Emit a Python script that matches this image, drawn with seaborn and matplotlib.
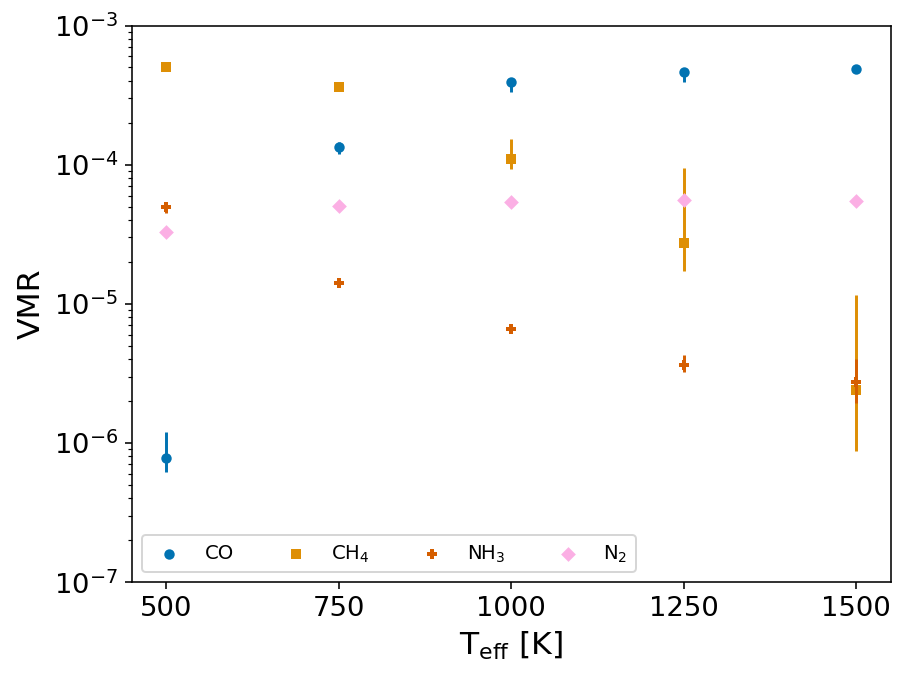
import numpy as np
import pandas as pd
import matplotlib
matplotlib.use("Agg")
import matplotlib.pyplot as plt
import seaborn as sns

teff = [500, 750, 1000, 1250, 1500]
species = ["CO", "CH4", "NH3", "N2"]
labels = {"CO": "CO", "CH4": r"CH$_4$", "NH3": r"NH$_3$", "N2": r"N$_2$"}
markers = {"CO": "o", "CH4": "s", "NH3": "P", "N2": "D"}

co_vmr = [7.8e-7, 1.35e-4, 3.9e-4, 4.65e-4, 4.9e-4]
co_lo = [6.2e-7, 1.2e-4, 3.35e-4, 3.95e-4, 4.7e-4]
co_hi = [1.2e-6, 1.45e-4, 4.1e-4, 4.85e-4, 5.1e-4]

ch4_vmr = [5.0e-4, 3.62e-4, 1.09e-4, 2.75e-5, 2.4e-6]
ch4_lo = [4.9e-4, 3.55e-4, 9.3e-5, 1.73e-5, 8.8e-7]
ch4_hi = [5.1e-4, 3.7e-4, 1.54e-4, 9.4e-5, 1.16e-5]

nh3_vmr = [5.0e-5, 1.42e-5, 6.6e-6, 3.64e-6, 2.75e-6]
nh3_lo = [4.5e-5, 1.38e-5, 6.3e-6, 3.24e-6, 1.94e-6]
nh3_hi = [5.2e-5, 1.46e-5, 6.9e-6, 4.3e-6, 4.0e-6]

n2_vmr = [3.3e-5, 5.05e-5, 5.4e-5, 5.6e-5, 5.5e-5]
n2_lo = [3.25e-5, 5.0e-5, 5.35e-5, 5.55e-5, 5.45e-5]
n2_hi = [3.35e-5, 5.1e-5, 5.45e-5, 5.65e-5, 5.55e-5]

series = {
    "CO": (co_vmr, co_lo, co_hi),
    "CH4": (ch4_vmr, ch4_lo, ch4_hi),
    "NH3": (nh3_vmr, nh3_lo, nh3_hi),
    "N2": (n2_vmr, n2_lo, n2_hi),
}

palette = sns.color_palette("colorblind")
colors = {"CO": palette[0], "CH4": palette[1], "NH3": palette[3], "N2": palette[6]}

plt.rcParams["font.family"] = ["DejaVu Sans"]
fig, ax = plt.subplots(figsize=(6.4, 4.8), dpi=141.72)
fig.subplots_adjust(left=0.1455, right=0.982, top=0.962, bottom=0.144)

for sp in species:
    v, lo, hi = series[sp]
    v = np.array(v); lo = np.array(lo); hi = np.array(hi)
    ax.errorbar(teff, v, yerr=[v - lo, hi - v], fmt="none", ecolor=colors[sp],
                elinewidth=1.5, capsize=0, zorder=2)
    df = pd.DataFrame({"Teff": teff, "VMR": v})
    sns.scatterplot(data=df, x="Teff", y="VMR", ax=ax, color=colors[sp],
                    marker=markers[sp], s=28, linewidth=0, label=labels[sp], zorder=2)

ax.set_yscale("log")
ax.set_ylim(1e-7, 1e-3)
ax.set_xlim(450, 1550)
ax.set_xticks([500, 750, 1000, 1250, 1500])
ax.tick_params(axis="both", which="major", labelsize=14)
ax.set_xlabel(r"T$_{\rm eff}$ [K]", fontsize=16)
ax.set_ylabel("VMR", fontsize=16)
ax.legend(loc="lower left", ncol=4, fontsize=10, columnspacing=2.15)

fig.savefig("out.png", dpi=141.72)
